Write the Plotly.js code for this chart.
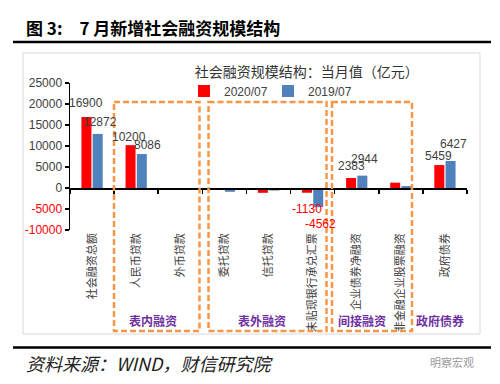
<!DOCTYPE html>
<html>
<head>
<meta charset="utf-8">
<script src="https://cdn.plot.ly/plotly-3.0.1.min.js"></script>
<style>html,body{margin:0;padding:0;background:#fff;}#chart{width:500px;height:384px;}</style>
</head>
<body>
<div id="chart"></div>
<script>
// ---- data ----
const categories = ['社会融资总额','人民币贷款','外币贷款','委托贷款','信托贷款','未贴现银行承兑汇票','企业债券净融资','非金融企业股票融资','政府债券'];
const seriesNames = ['2020/07','2019/07'];
const values2020 = [16900, 10200, -200, -40, -1150, -1130, 2383, 1270, 5459];
const values2019 = [12872, 8086, -30, -900, -600, -4562, 2944, 450, 6427];
const labeledIdx = [0, 1, 5, 6, 8];
const yTickVals = [-10000, -5000, 0, 5000, 10000, 15000, 20000, 25000];
const groupLabels = ['表内融资', '表外融资', '间接融资', '政府债券'];
const figTitle = '图 3:\u30007 月新增社会融资规模结构';
const chartTitle = '社会融资规模结构：当月值（亿元）';
const sourceText = '资料来源：WIND，财信研究院';
const watermark = '明察宏观';

// ---- layout geometry (pixels) ----
const W = 500, H = 384;
const M = {l: 70, r: 33, t: 83, b: 154};
const pw = W - M.l - M.r, ph = H - M.t - M.b;
const px = p => (p - M.l) / pw;
const py = p => (H - M.b - p) / ph;

const red = '#FF0000', blue = '#4F81BD', orange = '#F79646', purple = '#7030A0';
const txt = '#404040';
const numFont = 'Liberation Sans, Arial, Noto Sans CJK SC, sans-serif';
const cjkFont = 'Noto Sans CJK SC, sans-serif';

const traces = [
  {type: 'bar', name: seriesNames[0], x: categories, y: values2020, marker: {color: red}, hoverinfo: 'skip'},
  {type: 'bar', name: seriesNames[1], x: categories, y: values2019, marker: {color: blue}, hoverinfo: 'skip'},
  {type: 'scatter', x: categories, y: categories.map(() => null), xaxis: 'x2', yaxis: 'y', showlegend: false, hoverinfo: 'skip', mode: 'markers'}
];

// data labels
const nudges2020 = {0: [0, 14], 1: [-1, 8], 5: [0, -16], 6: [1, 12], 8: [0, 9]};
const nudges2019 = {0: [2, 12], 1: [5, 9], 5: [2, -17], 6: [2, 17], 8: [3, 17]};
const annotations = [];
labeledIdx.forEach(i => {
  [[values2020, -6, nudges2020], [values2019, 6, nudges2019]].forEach(([vals, off, nd]) => {
    const v = vals[i];
    const n = nd[i] || [0, v >= 0 ? 10 : -10];
    annotations.push({
      x: categories[i], y: v, xref: 'x', yref: 'y', text: String(v), showarrow: false,
      xanchor: 'center', yanchor: 'middle', xshift: off + n[0], yshift: n[1],
      font: {family: numFont, size: 12, color: v < 0 ? red : txt}
    });
  });
});

// group labels
const groupPos = [152.5, 262, 361.5, 440];
groupLabels.forEach((g, k) => {
  annotations.push({x: px(groupPos[k]), y: py(320), xref: 'paper', yref: 'paper', text: g, showarrow: false,
    xanchor: 'center', yanchor: 'middle', font: {family: cjkFont, size: 12, color: purple, weight: 'bold'}});
});
// figure title, source, watermark
annotations.push({x: px(24), y: py(27), xref: 'paper', yref: 'paper', text: figTitle, showarrow: false,
  xanchor: 'left', yanchor: 'middle', font: {family: cjkFont, size: 17, color: '#000', weight: 'bold'}});
annotations.push({x: px(24), y: py(363), xref: 'paper', yref: 'paper', text: '<i>' + sourceText + '</i>', showarrow: false,
  xanchor: 'left', yanchor: 'middle', font: {family: cjkFont, size: 18, color: '#222'}});
annotations.push({x: px(476), y: py(362), xref: 'paper', yref: 'paper', text: watermark, showarrow: false,
  xanchor: 'right', yanchor: 'middle', font: {family: cjkFont, size: 11, color: '#9a9a9a'}});

const rect = (x0, y0, x1, y1, line) => ({type: 'rect', xref: 'paper', yref: 'paper', x0: px(x0), x1: px(x1), y0: py(y0), y1: py(y1), line: line, layer: 'above'});
const dash = {color: orange, width: 2.5, dash: '6px,3px'};
const shapes = [
  rect(23, 53, 480, 334, {color: '#d9d9d9', width: 1}),
  rect(114, 102, 199.5, 331, dash),
  rect(208.5, 102, 326.5, 331, dash),
  rect(332, 102, 412, 331, dash),
  {type: 'line', xref: 'paper', yref: 'paper', x0: px(13), x1: px(491), y0: py(42), y1: py(42), line: {color: '#000', width: 2.5}},
  {type: 'line', xref: 'paper', yref: 'paper', x0: px(13), x1: px(491), y0: py(347.5), y1: py(347.5), line: {color: '#000', width: 2.5}}
];

const yRange = [yTickVals[0], yTickVals[yTickVals.length - 1]];
const zeroPos = (0 - yRange[0]) / (yRange[1] - yRange[0]);

const layout = {
  width: W, height: H, margin: M,
  paper_bgcolor: '#fff', plot_bgcolor: 'rgba(0,0,0,0)',
  barmode: 'group', bargap: 0.49, bargroupgap: 0.11,
  showlegend: true,
  legend: {orientation: 'h', x: px(184), y: py(91), xanchor: 'left', yanchor: 'middle',
    font: {family: numFont, size: 12, color: txt}, itemwidth: 30, entrywidth: 39, bgcolor: 'rgba(0,0,0,0)'},
  title: {text: chartTitle, xref: 'container', yref: 'container', x: 306.7 / W, y: 1 - 71.7 / H,
    xanchor: 'center', yanchor: 'middle', font: {family: cjkFont, size: 14, color: '#333'}},
  xaxis: {type: 'category', categoryarray: categories, range: [-0.5, categories.length - 0.5],
    showline: false, ticks: '', tickangle: -90, showgrid: false, zeroline: false,
    tickfont: {family: cjkFont, size: 11, color: txt}, fixedrange: true},
  xaxis2: {type: 'category', categoryarray: categories, range: [-0.5, categories.length - 0.5],
    overlaying: 'x', anchor: 'free', position: zeroPos, side: 'bottom',
    showline: true, linecolor: '#000', linewidth: 1.5, ticks: 'outside', tickson: 'boundaries',
    ticklen: 4, tickcolor: '#000', tickwidth: 1.5, showticklabels: false, showgrid: false, zeroline: false},
  yaxis: {range: yRange, tickvals: yTickVals,
    ticktext: yTickVals.map(v => v < 0 ? '<span style="color:' + red + '">' + v + '</span>' : String(v)),
    showline: true, linecolor: '#000', linewidth: 1.5, ticks: 'outside', ticklen: 4, tickcolor: '#000', tickwidth: 1.5,
    showgrid: false, zeroline: false, tickfont: {family: numFont, size: 12, color: txt}, fixedrange: true},
  annotations: annotations,
  shapes: shapes
};

Plotly.newPlot('chart', traces, layout, {staticPlot: true, displayModeBar: false});
</script>
</body>
</html>
